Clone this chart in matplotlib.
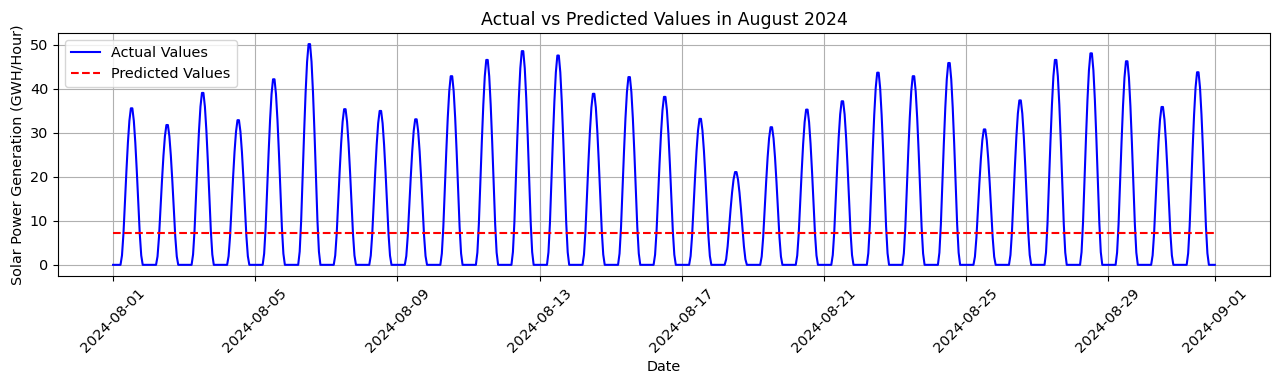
import numpy as np
import pandas as pd
import matplotlib
matplotlib.use("Agg")
import matplotlib.pyplot as plt
import matplotlib.dates as mdates

# daily peak of actual generation (GWH/Hour), Aug 1 .. Aug 31
daily_peaks = [35.6, 31.8, 39.1, 32.9, 42.2, 50.2, 35.4, 35.0, 33.1, 42.9,
               46.6, 48.6, 47.6, 38.9, 42.7, 38.2, 33.2, 21.1, 31.3, 35.3,
               37.2, 43.7, 42.9, 45.9, 30.8, 37.4, 46.6, 48.1, 46.3, 35.9,
               43.8]
# typical hourly shape of one day (fraction of the daily peak), hours 0..23
hour_shape = [0, 0, 0, 0, 0, 0, 0.06, 0.20, 0.40, 0.60, 0.78, 0.92,
              1.0, 1.0, 0.92, 0.78, 0.60, 0.40, 0.20, 0.06, 0, 0, 0, 0]
predicted_level = 7.2

actual = np.concatenate([np.array(hour_shape) * p for p in daily_peaks] + [[0.0]])
times = pd.date_range("2024-08-01 00:00", periods=len(actual), freq="h")
predicted = np.full(len(actual), predicted_level)

plt.rcParams["font.size"] = 10.4

fig, ax = plt.subplots(figsize=(12.75, 3.8), dpi=100)
ax.plot(times, actual, color="blue", label="Actual Values")
ax.plot(times, predicted, color="red", linestyle="--", label="Predicted Values")
ax.set_title("Actual vs Predicted Values in August 2024", fontsize=12.5)
ax.set_xlabel("Date")
ax.set_ylabel("Solar Power Generation (GWH/Hour)")
ax.xaxis.set_major_locator(mdates.DayLocator(bymonthday=[1, 5, 9, 13, 17, 21, 25, 29]))
ax.xaxis.set_major_formatter(mdates.DateFormatter("%Y-%m-%d"))
plt.setp(ax.get_xticklabels(), rotation=45)
ax.legend(loc="upper left")
ax.grid(True)
fig.subplots_adjust(left=0.0455, right=0.996, top=0.913, bottom=0.274)
fig.savefig("out.png")
